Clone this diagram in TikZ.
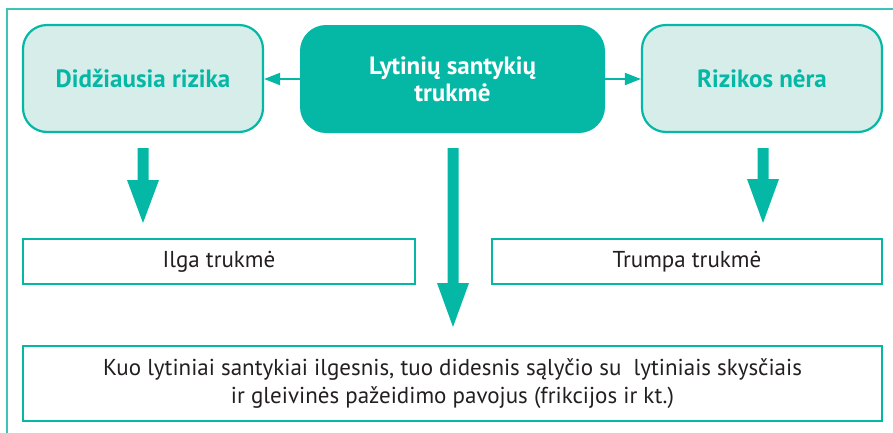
\documentclass[tikz,border=0pt]{standalone}
\usepackage{fontspec}
\setmainfont{PT Sans}
\usetikzlibrary{arrows.meta}
\definecolor{teal1}{HTML}{05B8A6}
\definecolor{tealframe}{HTML}{3CC4B6}
\definecolor{lightfill}{HTML}{D6EDE9}
\definecolor{txt}{HTML}{231F20}
\tikzset{
  riskbox/.style={draw=teal1, line width=2.2pt, fill=lightfill, rounded corners=24pt,
    minimum width=240pt, minimum height=107pt, text=teal1, font=\fontsize{25}{27}\selectfont\bfseries, align=center},
  mainbox/.style={fill=teal1, rounded corners=26pt, minimum width=305pt, minimum height=108pt,
    text=white, font=\fontsize{25}{27}\selectfont\bfseries, align=center},
  plainbox/.style={draw=teal1, line width=2.6pt, fill=white, text=txt,
    font=\fontsize{23}{28}\selectfont, align=center},
  smallarrow/.style={draw=teal1, line width=2pt, -{Triangle[length=16pt,width=12pt]}},
  bigarrow/.style={fill=teal1}
}
\begin{document}
\begin{tikzpicture}[x=1pt,y=-1pt]
\useasboundingbox (0,0) rectangle (893,432);
\draw[tealframe, line width=1.3pt] (7,440) -- (7,9) -- (900,9);
\node[riskbox] (l) at (143,78.5) {Didžiausia rizika};
\node[mainbox] (c) at (452.5,79) {Lytinių santykių\\trukmė};
\node[riskbox] (r) at (762,78.5) {Rizikos nėra};
\node[plainbox, minimum width=392pt, minimum height=45pt] (il) at (219,261.5) {Ilga trukmė};
\node[plainbox, minimum width=390pt, minimum height=45pt] (tr) at (687,261.5) {Trumpa trukmė};
\node[plainbox, minimum width=859pt, minimum height=75pt] (b) at (452.5,383.5)
  {Kuo lytiniai santykiai ilgesnis, tuo didesnis sąlyčio su~ lytiniais skysčiais\\ir gleivinės pažeidimo pavojus (frikcijos ir kt.)};
\draw[smallarrow] (c.west) -- (c.west -| l.east);
\draw[smallarrow] (c.east) -- (c.east -| r.west);
% block arrows
\fill[bigarrow] (137.5,148) -- (148.5,148) -- (148.5,180) -- (159,180) -- (143,223) -- (127,180) -- (137.5,180) -- cycle;
\fill[bigarrow] (447.5,148) -- (458.5,148) -- (458.5,283) -- (469,283) -- (453,327) -- (437,283) -- (447.5,283) -- cycle;
\fill[bigarrow] (757.5,148) -- (768.5,148) -- (768.5,179) -- (779,179) -- (763,223) -- (747,179) -- (757.5,179) -- cycle;
\end{tikzpicture}
\end{document}
